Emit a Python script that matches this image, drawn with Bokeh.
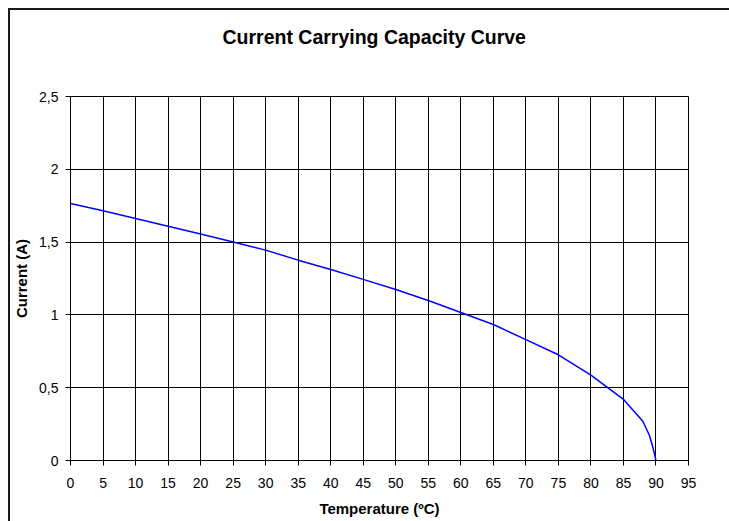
from bokeh.plotting import figure
from bokeh.models import Range1d, FixedTicker, CustomJSTickFormatter, Title
from bokeh.embed import file_html
from bokeh.resources import INLINE

# ---- data ----
temperature = [0, 5, 10, 15, 20, 25, 30, 35, 40, 45, 50, 55, 60, 65, 70, 75, 80,
               85, 86, 87, 88, 89, 89.5, 90]
current = [1.765, 1.715, 1.662, 1.609, 1.556, 1.500, 1.445, 1.376, 1.312, 1.244,
           1.174, 1.099, 1.016, 0.934, 0.830, 0.726, 0.586,
           0.420, 0.370, 0.320, 0.268, 0.172, 0.095, 0.0]

x_ticks = [0, 5, 10, 15, 20, 25, 30, 35, 40, 45, 50, 55, 60, 65, 70, 75, 80, 85, 90, 95]
y_ticks = [0, 0.5, 1, 1.5, 2, 2.5]
y_tick_labels = ["0", "0,5", "1", "1,5", "2", "2,5"]

title_text = "Current Carrying Capacity Curve"
x_label = "Temperature (ºC)"
y_label = "Current (A)"

FONT = "Liberation Sans"

p = figure(width=721, height=513, output_backend="svg", toolbar_location=None,
           x_range=Range1d(0, 95), y_range=Range1d(0, 2.5),
           min_border_left=62, min_border_right=41, min_border_top=88,
           min_border_bottom=61)
p.styles = {"box-shadow": "inset 2px 2px 0 0 #1a1a1a",
            "margin-left": "8px", "margin-top": "8px"}
p.border_fill_color = None
p.background_fill_color = "white"
p.outline_line_color = "black"
p.outline_line_width = 1

# spacer between the frame and the title
spacer = Title(text=" ", text_font_size="1px", standoff=46)
p.add_layout(spacer, "above")

p.title.text = title_text
p.title.align = "left"
p.title.offset = 152
p.title.text_font = FONT
p.title.text_font_size = "19.5px"
p.title.text_font_style = "bold"
p.title.text_color = "black"
p.title.standoff = 0

p.line(temperature, current, line_color="#0000FF", line_width=1.5)

# axes
for ax in (p.xaxis[0], p.yaxis[0]):
    ax.axis_line_color = "black"
    ax.axis_line_width = 1
    ax.major_tick_line_color = "black"
    ax.major_tick_out = 5
    ax.major_tick_in = 0
    ax.minor_tick_line_color = None
    ax.major_label_text_font = FONT
    ax.major_label_text_font_size = "14px"
    ax.major_label_text_color = "black"
    ax.axis_label_text_font = FONT
    ax.axis_label_text_font_size = "15px"
    ax.axis_label_text_font_style = "bold"
    ax.axis_label_text_color = "black"

p.xaxis.ticker = FixedTicker(ticks=x_ticks)
p.yaxis.ticker = FixedTicker(ticks=y_ticks)
p.yaxis.formatter = CustomJSTickFormatter(
    args=dict(tvals=y_ticks, tlabels=y_tick_labels),
    code="""
    for (let i = 0; i < tvals.length; i++) {
        if (Math.abs(tvals[i] - tick) < 1e-9) { return tlabels[i]; }
    }
    return '';
    """)
p.xaxis.axis_label = x_label
p.yaxis.axis_label = y_label
p.xaxis.major_label_standoff = 12
p.xaxis.axis_label_standoff = 9
p.yaxis.major_label_standoff = 7
p.yaxis.axis_label_standoff = 6

# grid
p.xgrid.ticker = FixedTicker(ticks=x_ticks)
p.ygrid.ticker = FixedTicker(ticks=y_ticks)
for g in (p.xgrid[0], p.ygrid[0]):
    g.grid_line_color = "black"
    g.grid_line_width = 1
    g.grid_line_alpha = 1

open("out.html", "w").write(file_html(p, INLINE))
